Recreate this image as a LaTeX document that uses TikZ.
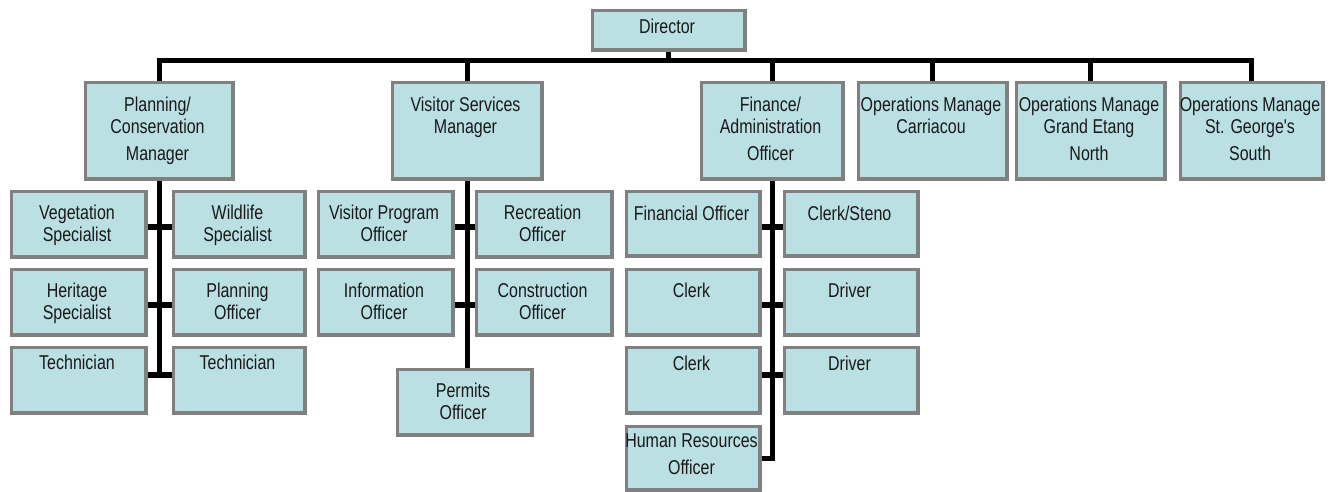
\documentclass[tikz,border=0pt]{standalone}
\usepackage{fontspec}
\setmainfont[FakeStretch=0.8,Ligatures=TeXOff]{Liberation Sans}
\usetikzlibrary{shadows}
\pgfdeclarelayer{bg}
\pgfsetlayers{bg,main}
\definecolor{boxfill}{RGB}{187,224,228}
\definecolor{boxline}{RGB}{128,128,128}
\definecolor{boxshadow}{RGB}{105,105,105}
\definecolor{txt}{RGB}{25,25,25}
\tikzset{
  orgbox/.style={draw=boxline, fill=boxfill, line width=3.5pt, inner sep=0pt, anchor=north west,
    drop shadow={shadow xshift=1.5pt, shadow yshift=-2pt, fill=boxshadow, opacity=1}},
  lbl/.style={anchor=north, inner sep=0pt, align=center, text=txt, font=\fontsize{20}{21.5}\selectfont},
  conn/.style={draw=black, line width=5pt, line join=miter},
  stub/.style={draw=black, line width=5.5pt},
}
\newcommand\obox[7]{%
  \node[orgbox, minimum width={(#4-#2-3.5)*1pt}, minimum height={(#5-#3-3.5)*1pt}] (#1) at (#2+1.75,#3+1.75) {};
  \node[lbl] (#1-t) at ({(#2+#4)/2},#6) {#7};
}
\begin{document}
\begin{tikzpicture}[x=1pt,y=-1pt]
\useasboundingbox (0,0) rectangle (1337,491);
% top
\obox{dir}{589}{7}{745}{50}{19}{Director}
\obox{plan}{82}{79}{233}{179}{97}{Planning/\\Conservation\\[6pt]Manager}
\obox{vs}{389}{79}{542}{179}{97}{Visitor Services\\Manager}
\obox{fin}{698}{79}{843}{179}{97}{Finance/\\Administration\\[6pt]Officer}
\obox{ops1}{855}{79}{1007}{179}{97}{Operations Manage\\Carriacou}
\obox{ops2}{1013}{79}{1165}{179}{97}{Operations Manage\\Grand Etang\\[6pt]North}
\obox{ops3}{1177}{79}{1323}{179}{97}{Operations Manage\\St. George's\\[6pt]South}
% planning
\obox{veg}{8}{188}{146}{257}{205}{Vegetation\\Specialist}
\obox{wild}{170}{188}{305}{257}{205}{Wildlife\\Specialist}
\obox{her}{8}{266}{146}{335}{283}{Heritage\\Specialist}
\obox{plo}{170}{266}{305}{335}{283}{Planning\\Officer}
\obox{tec1}{8}{344}{146}{413}{355}{Technician}
\obox{tec2}{170}{344}{305}{413}{355}{Technician}
% visitor services
\obox{vpo}{315}{188}{453}{257}{205}{Visitor Program\\Officer}
\obox{rec}{473}{188}{612}{257}{205}{Recreation\\Officer}
\obox{info}{315}{266}{453}{335}{283}{Information\\Officer}
\obox{cons}{473}{266}{612}{335}{283}{Construction\\Officer}
\obox{perm}{394}{366}{532}{435}{383}{Permits\\Officer}
% finance
\obox{fio}{623}{188}{760}{256}{206}{Financial Officer}
\obox{cst}{781}{188}{918}{256}{206}{Clerk/Steno}
\obox{clk1}{623}{266}{760}{335}{283}{Clerk}
\obox{drv1}{781}{266}{918}{335}{283}{Driver}
\obox{clk2}{623}{344}{760}{413}{356}{Clerk}
\obox{drv2}{781}{344}{918}{413}{356}{Driver}
\obox{hr}{623}{423}{760}{490}{434}{Human Resources\\[5pt]Officer}
% helper coordinates
\coordinate (bar) at (0,60.5);
\coordinate (r1) at (0,227);
\coordinate (r2) at (0,305);
\coordinate (r3) at (0,375);
\begin{pgfonlayer}{bg}
  \draw[conn] (plan.north) -- (plan.north |- bar) -- (ops3.north |- bar) -- (ops3.north);
  \draw[conn] (dir.south) -- (dir.south |- bar);
  \foreach \n in {vs,fin,ops1,ops2} \draw[conn] (\n.north |- bar) -- (\n.north);
  % planning subtree
  \draw[conn] (plan.south) -- (plan.south |- r3);
  \draw[stub] (veg.east |- r1) -- (wild.west |- r1);
  \draw[stub] (her.east |- r2) -- (plo.west |- r2);
  \draw[stub] (tec1.east |- r3) -- (tec2.west |- r3);
  % visitor subtree
  \draw[conn] (vs.south) -- (vs.south |- perm.north);
  \draw[stub] (vpo.east |- r1) -- (rec.west |- r1);
  \draw[stub] (info.east |- r2) -- (cons.west |- r2);
  % finance subtree
  \draw[conn] (fin.south) |- (hr.east);
  \draw[stub] (fio.east |- r1) -- (cst.west |- r1);
  \draw[stub] (clk1.east |- r2) -- (drv1.west |- r2);
  \draw[stub] (clk2.east |- r3) -- (drv2.west |- r3);
\end{pgfonlayer}
\end{tikzpicture}
\end{document}
